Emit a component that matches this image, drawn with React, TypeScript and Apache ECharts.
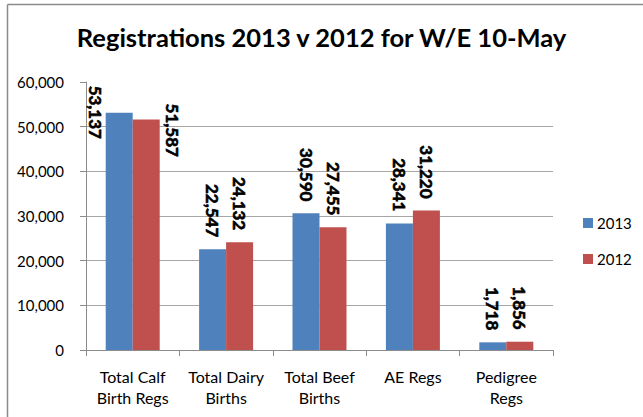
import React, { useEffect, useRef } from "react";
import * as echarts from "echarts";

const titleText = "Registrations 2013 v 2012 for W/E 10-May";
const categories = [
  "Total Calf\nBirth Regs",
  "Total Dairy\nBirths",
  "Total Beef\nBirths",
  "AE Regs",
  "Pedigree\nRegs",
];
const seriesNames = ["2013", "2012"];
const values2013 = [53137, 22547, 30590, 28341, 1718];
const values2012 = [51587, 24132, 27455, 31220, 1856];
const yMin = 0;
const yMax = 60000;
const yInterval = 10000;

const FONT = "Lato";
const fmt = (v: number) => Number(v).toLocaleString("en-US");

export default function App() {
  const ref = useRef<HTMLDivElement>(null);
  useEffect(() => {
    if (!ref.current) return;
    const chart = echarts.init(ref.current, undefined, { renderer: "svg" });

    const makeLabel = () => ({
      show: true,
      position: "top",
      distance: 12,
      rotate: -90,
      align: "right",
      verticalAlign: "middle",
      fontFamily: FONT,
      fontWeight: "bold",
      fontSize: 17,
      color: "#000",
      textBorderColor: "#000",
      textBorderWidth: 0.6,
      formatter: (p: any) => fmt(p.value),
    });

    const data2013 = values2013.map((v, i) =>
      i === 0
        ? { value: v, label: { position: [-10, -27], align: "left", verticalAlign: "middle" } }
        : v
    );
    const data2012 = values2012.map((v, i) =>
      i === 0
        ? { value: v, label: { position: [39.5, -16], align: "left", verticalAlign: "middle" } }
        : v
    );

    chart.setOption({
      animation: false,
      backgroundColor: "#fff",
      title: {
        text: titleText,
        left: "center",
        top: 19,
        textStyle: {
          fontFamily: FONT,
          fontWeight: "bold",
          fontSize: 25.5,
          color: "#000",
        },
      },
      graphic: [
        { type: "line", shape: { x1: 7.5, y1: 4.5, x2: 643, y2: 4.5 }, style: { stroke: "#8a8a8a", lineWidth: 1.5 } },
        { type: "line", shape: { x1: 7.5, y1: 4.5, x2: 7.5, y2: 417 }, style: { stroke: "#8a8a8a", lineWidth: 1.5 } },
      ],
      legend: {
        orient: "vertical",
        left: 583,
        top: 215,
        padding: 0,
        itemWidth: 10,
        itemHeight: 10,
        itemGap: 20,
        icon: "rect",
        data: seriesNames,
        textStyle: { fontFamily: FONT, fontSize: 15, color: "#000", lineHeight: 16, padding: [0, 0, 0, -1] },
      },
      grid: { left: 86, right: 90, top: 82, bottom: 67, containLabel: false },
      xAxis: {
        type: "category",
        data: categories,
        axisLine: { lineStyle: { color: "#8c8c8c", width: 1 } },
        axisTick: { show: true, length: 6, lineStyle: { color: "#8c8c8c" } },
        axisLabel: {
          fontFamily: FONT,
          fontSize: 16,
          lineHeight: 21,
          color: "#000",
          margin: 16,
          interval: 0,
        },
      },
      yAxis: {
        type: "value",
        min: yMin,
        max: yMax,
        interval: yInterval,
        axisLine: { show: true, lineStyle: { color: "#8c8c8c", width: 1 } },
        axisTick: { show: true, length: 6, lineStyle: { color: "#8c8c8c" } },
        axisLabel: {
          fontFamily: FONT,
          fontSize: 15,
          color: "#000",
          margin: 22,
          formatter: (v: number) => fmt(v),
        },
        splitLine: { show: true, showMaxLine: false, lineStyle: { color: "#a6a6a6", width: 1 } },
      },
      series: [
        {
          name: seriesNames[0],
          type: "bar",
          data: data2013,
          barWidth: 27,
          barGap: "0%",
          itemStyle: { color: "#4F81BD" },
          label: makeLabel(),
        },
        {
          name: seriesNames[1],
          type: "bar",
          data: data2012,
          barWidth: 27,
          barGap: "0%",
          itemStyle: { color: "#C0504D" },
          label: makeLabel(),
        },
      ],
    });
    return () => chart.dispose();
  }, []);
  return (
    <div
      ref={ref}
      style={{ position: "absolute", left: 0, top: 0, width: 643, height: 417 }}
    />
  );
}
